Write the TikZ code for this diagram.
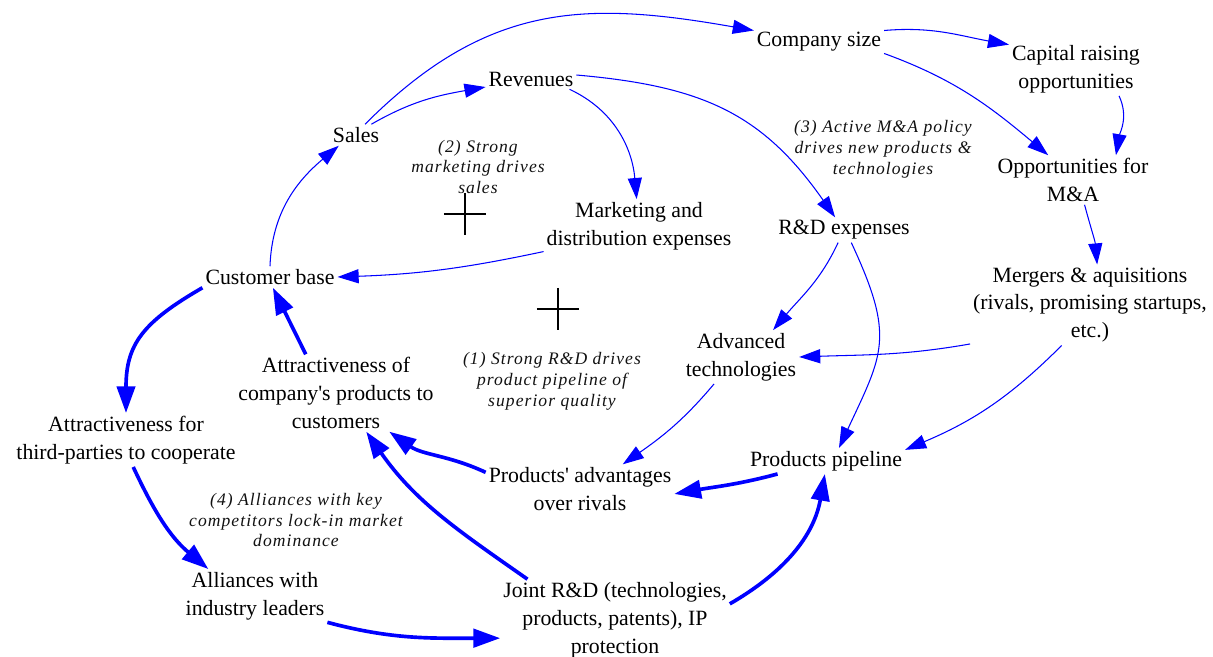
\documentclass[tikz,border=0pt]{standalone}
\usepackage{fontspec}
\setmainfont{Liberation Serif}
\usepackage{xcolor}
\usetikzlibrary{arrows.meta}
\definecolor{ink}{HTML}{000000}
\definecolor{notegray}{HTML}{111111}
\definecolor{linkblue}{HTML}{0000FF}
\tikzset{
  var/.style={align=center,inner sep=2pt,font=\fontsize{15.5}{19.8}\selectfont,text=ink},
  loopnote/.style={align=center,inner sep=1pt,font=\fontsize{12.5}{14.9}\selectfont\itshape\addfontfeature{LetterSpace=6},text=notegray},
  link/.style={-{Triangle[length=15pt,width=10pt]},line width=0.75pt,draw=linkblue},
  boldlink/.style={-{Triangle[length=19pt,width=13pt]},line width=2.6pt,draw=linkblue},
  polarity/.style={minimum size=30pt,inner sep=0pt,path picture={%
    \draw[line width=1.5pt] (path picture bounding box.north) -- (path picture bounding box.south)
      (path picture bounding box.west) -- (path picture bounding box.east);}}
}

\begin{document}
\begin{tikzpicture}[x=0.025cm,y=0.025cm]
  \useasboundingbox (0,0) rectangle (1213,657);
  \node[var] (comp) at (819,615) {Company size};
  \node[var] (capital) at (1076,588) {Capital raising\\opportunities};
  \node[var] (rev) at (531,578) {Revenues};
  \node[var] (sales) at (356,522) {Sales};
  \node[var] (mkt) at (639,431) {Marketing and\\distribution expenses};
  \node[var] (opp) at (1073,477) {Opportunities for\\M\&A};
  \node[var] (rnd) at (844,427) {R\&D expenses};
  \node[var] (ma) at (1090,352) {Mergers \& aquisitions\\(rivals, promising startups,\\etc.)};
  \node[var] (cust) at (270,380) {Customer base};
  \node[var] (adv) at (741,300) {Advanced\\technologies};
  \node[var] (attcomp) at (336,264) {Attractiveness of\\company\textquotesingle s products to\\customers};
  \node[var] (att3) at (126,217) {Attractiveness for\\third-parties to cooperate};
  \node[var] (pipe) at (826,196) {Products pipeline};
  \node[var] (prodadv) at (580,168) {Products\textquotesingle\ advantages\\over rivals};
  \node[var] (alli) at (255,61) {Alliances with\\industry leaders};
  \node[var] (joint) at (615,37) {Joint R\&D (technologies,\\products, patents), IP\\protection};

  \node[loopnote] (note1) at (552,276) {(1) Strong R\&D drives\\product pipeline of\\superior quality};
  \node[loopnote] (note2) at (478,490) {(2) Strong\\marketing drives\\sales};
  \node[loopnote] (note3) at (883,508) {(3) Active M\&A policy\\drives new products \&\\technologies};
  \node[loopnote] (note4) at (296,137) {(4) Alliances with key\\competitors lock-in market\\dominance};

  \node[polarity] (plusA) at (465,443) {};
  \node[polarity] (plusB) at (558,348) {};

  \draw[link] (cust.north) to[out=88,in=-140] (sales.-148);
  \draw[link] (sales.35) to[out=30,in=190] (rev.190);
  \draw[link] (sales.50) to[out=45,in=170,looseness=1.1] (comp.170);
  \draw[link] (rev.-15) to[out=-25,in=95] (mkt.95);
  \draw[link] (rev.5) to[out=-5,in=125,looseness=1.1] (rnd.125);
  \draw[link] (comp.10) to[out=5,in=170] (capital.160);
  \draw[link] (comp.-10) to[out=-20,in=140] (opp.135);
  \draw[link] (capital.-32) to[out=-65,in=80] (opp.30);
  \draw[link] (opp.-65) to[out=-75,in=95] (ma.80);
  \draw[link] (mkt.-165) to[out=192,in=2] (cust.east);
  \draw[link] (rnd.-115) to[out=-115,in=50] (adv.40);
  \draw[link] (rnd.-60) to[out=-65,in=65,looseness=1.3] (pipe.45);
  \draw[link] (ma.-162) to[out=190,in=2] (adv.east);
  \draw[link] (ma.-125) to[out=-135,in=23] (pipe.8);
  \draw[link] (adv.-135) to[out=-130,in=35] (prodadv.30);

  \draw[boldlink] (pipe.-165) to[out=195,in=10] (prodadv.-3);
  \draw[boldlink] (prodadv.170) to[out=155,in=-35] (attcomp.-36);
  \draw[boldlink] (attcomp.128) -- (cust.-75);
  \draw[boldlink] (cust.south west) to[out=-150,in=90,looseness=1.2] (att3.north);
  \draw[boldlink] (att3.-75) to[out=-65,in=140] (alli.150);
  \draw[boldlink] (alli.-20) to[out=-15,in=180] (joint.-171);
  \draw[boldlink] (joint.155) to[out=145,in=-55] (attcomp.-52);
  \draw[boldlink] (joint.8) to[out=30,in=-100] (pipe.-95);
\end{tikzpicture}
\end{document}
